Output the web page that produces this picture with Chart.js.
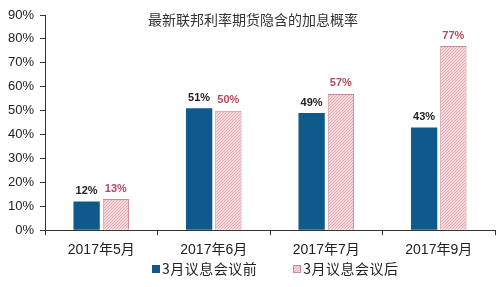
<!DOCTYPE html>
<html>
<head>
<meta charset="utf-8">
<script src="https://cdn.jsdelivr.net/npm/chart.js@4.4.0/dist/chart.umd.min.js"></script>
<style>
  html, body { margin: 0; padding: 0; background: #fff; }
  #wrap { position: relative; width: 500px; height: 287px; }
  #title {
    position: absolute; left: 0; width: 506px; top: 9px; text-align: center;
    font: 14px "Noto Sans CJK SC", sans-serif; color: #333;
  }
  #legend {
    position: absolute; left: 152px; top: 258px;
    font: 14px "Noto Sans CJK SC", sans-serif; color: #222; white-space: nowrap;
  }
  #legend span.item { display: inline-block; margin-right: 36px; letter-spacing: 0.5px; }
  #legend i {
    display: inline-block; width: 8px; height: 8px; margin-right: 2px;
    vertical-align: 1px; box-sizing: border-box;
  }
</style>
</head>
<body>
<div id="wrap">
  <canvas id="chart" width="500" height="287"></canvas>
  <div id="title">最新联邦利率期货隐含的加息概率</div>
  <div id="legend"></div>
</div>
<script>
// 数据
const categories = ["2017年5月", "2017年6月", "2017年7月", "2017年9月"];
const seriesNames = ["3月议息会议前", "3月议息会议后"];
const before = [12, 51, 49, 43];
const after = [13, 50, 57, 77];

const blue = "#0f5a8b";
const pinkEdge = "#c88a94";

// 斜线填充
function hatchCanvas() {
  const c = document.createElement("canvas");
  c.width = 3; c.height = 3;
  const g = c.getContext("2d");
  g.fillStyle = "#f5d9dd";
  g.fillRect(0, 0, 3, 3);
  g.fillStyle = "#e2a9b2";
  for (let k = 0; k < 3; k++) g.fillRect(k, 2 - k, 1, 1);
  return c;
}
const hc = hatchCanvas();
const pattern = document.createElement("canvas").getContext("2d").createPattern(hc, "repeat");

// 图例
const legend = document.getElementById("legend");
seriesNames.forEach((name, i) => {
  const item = document.createElement("span");
  item.className = "item";
  const box = document.createElement("i");
  if (i === 0) box.style.background = blue;
  else {
    box.style.background = "url(" + hc.toDataURL() + ")";
    box.style.border = "1px solid " + pinkEdge;
  }
  item.appendChild(box);
  item.appendChild(document.createTextNode(name));
  legend.appendChild(item);
});

const labelPlugin = {
  id: "barLabels",
  afterDatasetsDraw(chart) {
    const ctx = chart.ctx;
    ctx.save();
    ctx.font = "bold 11px 'Liberation Sans', Arial, sans-serif";
    ctx.textAlign = "center";
    ctx.textBaseline = "bottom";
    chart.data.datasets.forEach((ds, i) => {
      ctx.fillStyle = i === 0 ? "#222" : "#b8475e";
      chart.getDatasetMeta(i).data.forEach((bar, j) => {
        ctx.fillText(ds.data[j] + "%", bar.x, bar.y - 5);
      });
    });
    ctx.restore();
  }
};

new Chart(document.getElementById("chart"), {
  type: "bar",
  data: {
    labels: categories,
    datasets: [
      {
        label: seriesNames[0],
        data: before,
        backgroundColor: blue,
        borderWidth: 0,
        categoryPercentage: 0.52,
        barPercentage: 0.9
      },
      {
        label: seriesNames[1],
        data: after,
        backgroundColor: pattern,
        borderColor: pinkEdge,
        borderWidth: 1,
        categoryPercentage: 0.52,
        barPercentage: 0.9
      }
    ]
  },
  options: {
    responsive: false,
    animation: false,
    layout: { padding: { top: 15, right: 5, left: 0, bottom: 21 } },
    plugins: {
      legend: { display: false },
      tooltip: { enabled: false }
    },
    scales: {
      x: {
        grid: { drawOnChartArea: false, tickLength: 5, color: "#333", offset: true },
        border: { color: "#333", width: 1 },
        ticks: {
          color: "#222", padding: 7,
          font: { size: 14, family: "'Liberation Sans', 'Noto Sans CJK SC', sans-serif" }
        }
      },
      y: {
        min: 0, max: 90,
        afterFit(s) { s.width = 45; },
        grid: { drawOnChartArea: false, tickLength: 5, color: "#333" },
        border: { color: "#333", width: 1 },
        ticks: {
          stepSize: 10, color: "#222", padding: 6,
          font: { size: 13, family: "'Liberation Sans', Arial, sans-serif" },
          callback: v => v + "%"
        }
      }
    }
  },
  plugins: [labelPlugin]
});
</script>
</body>
</html>
